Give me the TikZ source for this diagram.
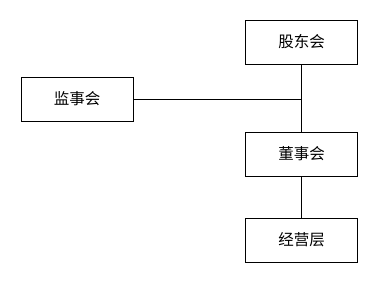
\documentclass[tikz,border=0pt]{standalone}
\usepackage{fontspec}
\newfontfamily\cjk{Noto Sans CJK SC}
\begin{document}
\begin{tikzpicture}[x=1pt,y=-1pt,
  box/.style={draw, line width=0.8pt, minimum width=112pt, minimum height=44pt, inner sep=0pt, font=\cjk\fontsize{15.5}{15.5}\selectfont}]
  \useasboundingbox (0,0) rectangle (378,283);
  \node[box] (gudong) at (301.5,42) {股东会};
  \node[box] (jianshi) at (77,99) {监事会};
  \node[box] (dongshi) at (301.5,154) {董事会};
  \node[box] (jingying) at (301.5,240) {经营层};
  \coordinate (J) at (gudong.south |- jianshi.east);
  \draw[line width=0.8pt] (gudong) -- (dongshi);
  \draw[line width=0.8pt] (jianshi) -- (J);
  \draw[line width=0.8pt] (dongshi) -- (jingying);
\end{tikzpicture}
\end{document}
